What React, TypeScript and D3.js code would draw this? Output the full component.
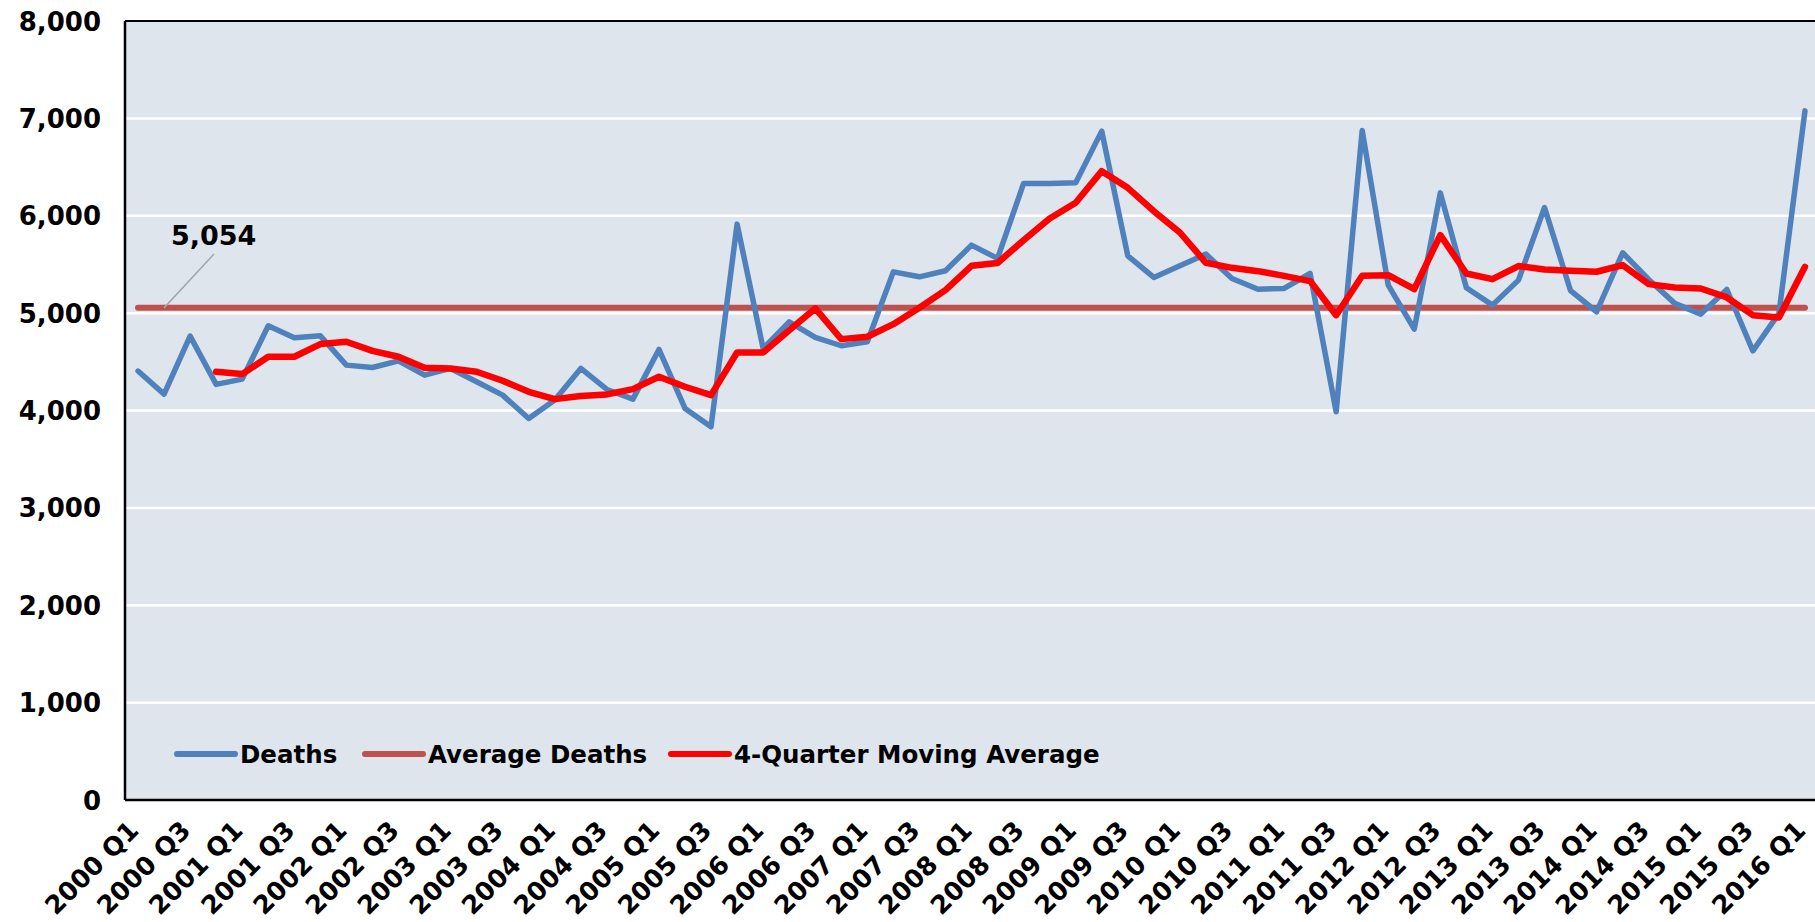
import React from 'react';
import * as d3 from 'd3';

const quarters = [
  '2000 Q1', '2000 Q2', '2000 Q3', '2000 Q4', '2001 Q1', '2001 Q2', '2001 Q3', '2001 Q4',
  '2002 Q1', '2002 Q2', '2002 Q3', '2002 Q4', '2003 Q1', '2003 Q2', '2003 Q3', '2003 Q4',
  '2004 Q1', '2004 Q2', '2004 Q3', '2004 Q4', '2005 Q1', '2005 Q2', '2005 Q3', '2005 Q4',
  '2006 Q1', '2006 Q2', '2006 Q3', '2006 Q4', '2007 Q1', '2007 Q2', '2007 Q3', '2007 Q4',
  '2008 Q1', '2008 Q2', '2008 Q3', '2008 Q4', '2009 Q1', '2009 Q2', '2009 Q3', '2009 Q4',
  '2010 Q1', '2010 Q2', '2010 Q3', '2010 Q4', '2011 Q1', '2011 Q2', '2011 Q3', '2011 Q4',
  '2012 Q1', '2012 Q2', '2012 Q3', '2012 Q4', '2013 Q1', '2013 Q2', '2013 Q3', '2013 Q4',
  '2014 Q1', '2014 Q2', '2014 Q3', '2014 Q4', '2015 Q1', '2015 Q2', '2015 Q3', '2015 Q4',
  '2016 Q1',
];

const deaths = [
  4405, 4168, 4764, 4268, 4322, 4870, 4746, 4767,
  4466, 4442, 4510, 4363, 4432, 4295, 4158, 3918,
  4107, 4432, 4216, 4117, 4627, 4021, 3833, 5914,
  4637, 4910, 4750, 4665, 4706, 5424, 5373, 5435,
  5698, 5562, 6332, 6332, 6338, 6869, 5589, 5366,
  5486, 5606, 5356, 5246, 5253, 5407, 3987, 6875,
  5287, 4836, 6235, 5260, 5082, 5339, 6085, 5230,
  5014, 5620, 5346, 5100, 4990, 5243, 4613, 4997,
  7077,
];

const movingAvg: (number | null)[] = [
  null, null, null, 4398, 4374, 4552, 4552, 4682,
  4706, 4613, 4552, 4439, 4432, 4398, 4305, 4192,
  4117, 4148, 4165, 4220, 4347, 4244, 4158, 4596,
  4596, 4825, 5048, 4733, 4757, 4887, 5055, 5236,
  5486, 5515, 5749, 5972, 6133, 6458, 6287, 6047,
  5828, 5517, 5465, 5431, 5383, 5329, 4979, 5383,
  5390, 5246, 5801, 5407, 5349, 5483, 5448, 5435,
  5425, 5493, 5298, 5263, 5253, 5161, 4979, 4956,
  5476,
];

const averageDeaths = 5054;
const yTicks = [0, 1000, 2000, 3000, 4000, 5000, 6000, 7000, 8000];

const legendItems = [
  { label: 'Deaths', color: '#4F81BD' },
  { label: 'Average Deaths', color: '#C0504D' },
  { label: '4-Quarter Moving Average', color: '#FF0000' },
];

const W = 1815;
const H = 922;
const plot = { left: 125, right: 1818, top: 21, bottom: 800 };
const font = '"DejaVu Sans", sans-serif';

export default function App() {
  const x = d3.scaleBand<string>().domain(quarters).range([plot.left, plot.right]);
  const cx = (q: string) => (x(q) ?? 0) + x.bandwidth() / 2;
  const y = d3.scaleLinear().domain([0, 8000]).range([plot.bottom, plot.top]);

  const deathsLine = d3.line<number>()
    .x((_, i) => cx(quarters[i]))
    .y(d => y(d));

  const maLine = d3.line<number | null>()
    .defined(d => d !== null)
    .x((_, i) => cx(quarters[i]))
    .y(d => y(d as number));

  const avgY = y(averageDeaths);
  const firstX = cx(quarters[0]);
  const lastX = cx(quarters[quarters.length - 1]);

  const legendX = [177, 365, 671];

  return (
    <svg width={W} height={H} style={{ position: 'absolute', left: 0, top: 0, background: '#fff' }}>
      <defs>
        <clipPath id="plotclip">
          <rect x={plot.left} y={plot.top} width={plot.right - plot.left} height={plot.bottom - plot.top} />
        </clipPath>
      </defs>
      <rect x={plot.left} y={plot.top} width={plot.right - plot.left} height={plot.bottom - plot.top} fill="#DEE5EC" />

      {yTicks.filter(t => t > 0 && t < 8000).map(t => (
        <line key={t} x1={plot.left} x2={plot.right} y1={y(t)} y2={y(t)} stroke="#fff" strokeWidth={2.5} />
      ))}

      <g clipPath="url(#plotclip)">
        <line x1={firstX} x2={lastX} y1={avgY} y2={avgY} stroke="#C0504D" strokeWidth={6} strokeLinecap="round" />
        <path d={deathsLine(deaths) ?? ''} fill="none" stroke="#4F81BD" strokeWidth={5.5} strokeLinejoin="round" strokeLinecap="round" />
        <path d={maLine(movingAvg) ?? ''} fill="none" stroke="#FF0000" strokeWidth={6.5} strokeLinejoin="round" strokeLinecap="round" />
      </g>

      {/* data label for the average line */}
      <line x1={214} y1={254} x2={cx(quarters[1])} y2={avgY} stroke="#A6A6A6" strokeWidth={1.5} />
      <text x={171} y={245} fontFamily={font} fontWeight="bold" fontSize={27} fill="#000">
        {averageDeaths.toLocaleString('en-US')}
      </text>

      {/* legend */}
      {legendItems.map((d, i) => (
        <g key={d.label} transform={`translate(${legendX[i]},754)`}>
          <line x1={0} x2={58} y1={0} y2={0} stroke={d.color} strokeWidth={6} strokeLinecap="round" />
          <text x={63} y={9} fontFamily={font} fontWeight="bold" fontSize={24.5} fill="#000">{d.label}</text>
        </g>
      ))}

      {/* plot frame */}
      <line x1={plot.left} x2={plot.right} y1={plot.top} y2={plot.top} stroke="#000" strokeWidth={2} />
      <line x1={plot.left} x2={plot.left} y1={plot.top} y2={plot.bottom} stroke="#000" strokeWidth={2.5} />
      <line x1={plot.left} x2={plot.right} y1={plot.bottom} y2={plot.bottom} stroke="#000" strokeWidth={2.5} />

      {/* y axis labels */}
      {yTicks.map(t => (
        <text key={t} x={101} y={y(t) + 9.5} textAnchor="end" fontFamily={font} fontWeight="bold" fontSize={26} fill="#000">
          {d3.format(',')(t)}
        </text>
      ))}

      {/* x axis labels, every second quarter */}
      {quarters.filter((_, i) => i % 2 === 0).map(q => (
        <text
          key={q}
          transform={`translate(${cx(q) + 2},${832}) rotate(-45)`}
          textAnchor="end"
          fontFamily={font}
          fontWeight="bold"
          fontSize={25.5}
          fill="#000"
        >
          {q}
        </text>
      ))}
    </svg>
  );
}
